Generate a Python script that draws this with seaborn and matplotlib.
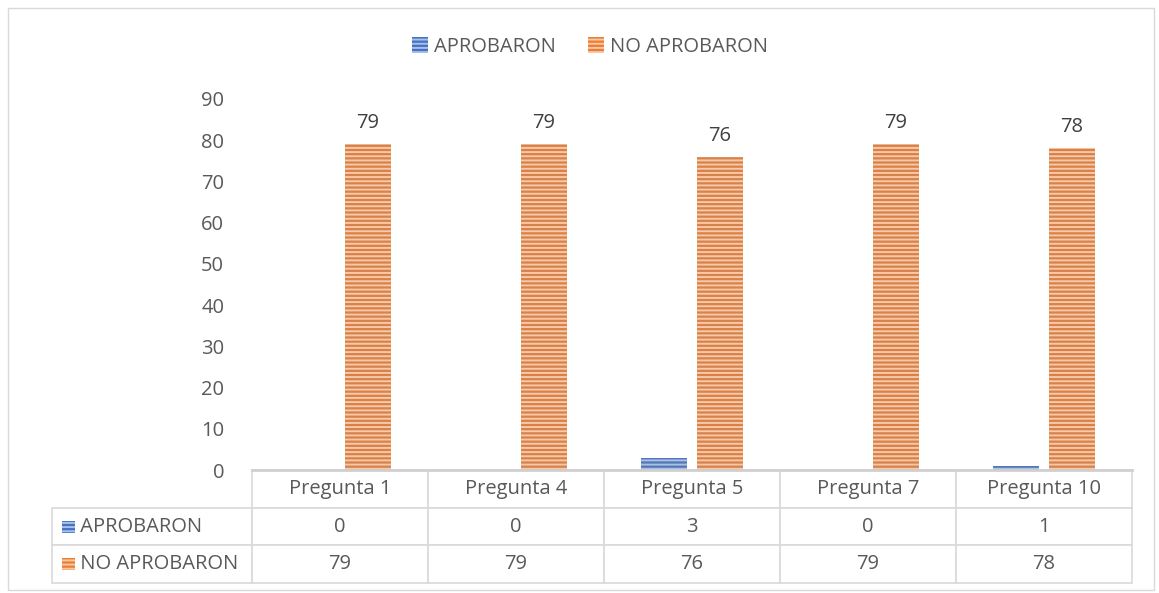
import matplotlib
matplotlib.use("Agg")
import matplotlib.pyplot as plt
import matplotlib.patches as mpatches
import seaborn as sns
import pandas as pd

preguntas = ["Pregunta 1", "Pregunta 4", "Pregunta 5", "Pregunta 7", "Pregunta 10"]
aprobaron = [0, 0, 3, 0, 1]
no_aprobaron = [79, 79, 76, 79, 78]
series = ["APROBARON", "NO APROBARON"]
colores = ["#4472C4", "#ED7D31"]
rayas = ["#A9C0E8", "#F9C8A6"]

df = pd.DataFrame({
    "pregunta": preguntas * 2,
    "serie": [series[0]] * len(preguntas) + [series[1]] * len(preguntas),
    "valor": aprobaron + no_aprobaron,
})

sns.set_theme(style="white")
plt.rcParams["font.family"] = ["Open Sans", "DejaVu Sans"]
plt.rcParams["hatch.linewidth"] = 1.4
gris = "#595959"
fs = 14.5

fig = plt.figure(figsize=(11.59, 5.93), dpi=100)
ax = fig.add_axes([252 / 1159, 1 - 470 / 593, 880 / 1159, 371 / 593])

sns.barplot(data=df, x="pregunta", y="valor", hue="serie", palette=colores,
            width=0.636, gap=0.18, ax=ax, legend=False, linewidth=0)

for cont, raya in zip(ax.containers, rayas):
    for bar in cont:
        bar.set_hatch("----")
        bar.set_edgecolor(raya)
        bar.set_linewidth(0)

ax.bar_label(ax.containers[1], labels=[str(v) for v in no_aprobaron],
             padding=8, fontsize=fs, color="#404040")

ax.set_ylim(0, 90)
ax.set_yticks(range(0, 91, 10))
ax.set_xlim(-0.5, len(preguntas) - 0.5)
ax.tick_params(axis="y", length=0, pad=20, labelsize=fs, labelcolor=gris)
ax.set_xticks([])
ax.set_xlabel("")
ax.set_ylabel("")
for s in ["left", "right", "top"]:
    ax.spines[s].set_visible(False)
ax.spines["bottom"].set_color("#D0D0D0")
ax.spines["bottom"].set_linewidth(2)

# tabla de datos (primera columna = nombres de serie)
lab_w = 200 / 880
filas = [["     " + series[0]] + [str(v) for v in aprobaron],
         ["     " + series[1]] + [str(v) for v in no_aprobaron]]
tabla = ax.table(
    cellText=filas,
    colLabels=[""] + preguntas,
    cellLoc="center",
    colWidths=[lab_w] + [0.2] * len(preguntas),
    bbox=[-lab_w, -113 / 371, 1 + lab_w, 113 / 371],
)
tabla.auto_set_font_size(False)
for (r, c), cell in tabla.get_celld().items():
    cell.set_edgecolor("#D9D9D9")
    cell.set_linewidth(1.2)
    cell.get_text().set_fontsize(fs)
    cell.get_text().set_color(gris)
    if c == 0:
        cell.get_text().set_horizontalalignment("left")
        cell.PAD = 0.01
    if r == 0 and c == 0:
        cell.visible_edges = ""

# marcadores de la tabla
for i, (col, raya) in enumerate(zip(colores, rayas)):
    yc = 470 - (508 + 37.5 * i + 18.5)
    sq = mpatches.Rectangle((-lab_w + 10 / 880, (yc - 6) / 371), 13 / 880, 12 / 371,
                            transform=ax.transAxes, facecolor=col,
                            edgecolor=raya, hatch="----", linewidth=0,
                            clip_on=False)
    ax.add_patch(sq)

handles = [mpatches.Patch(facecolor=c, edgecolor=r, hatch="----", linewidth=0)
           for c, r in zip(colores, rayas)]
fig.legend(handles, series, loc="center", bbox_to_anchor=(0.509, 1 - 47 / 593),
           ncol=2, frameon=False, fontsize=fs, labelcolor=gris,
           handlelength=0.8, handleheight=0.8, handletextpad=0.3,
           columnspacing=1.6)

fig.patches.append(mpatches.Rectangle((8 / 1159, 3 / 593), 1146 / 1159, 582 / 593,
                                      transform=fig.transFigure, fill=False,
                                      edgecolor="#D9D9D9", linewidth=1))

fig.savefig("out.png", dpi=100)
